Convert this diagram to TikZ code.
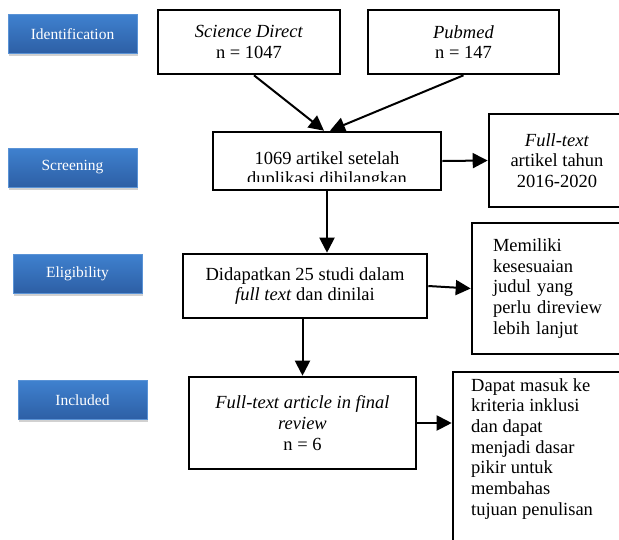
\documentclass[tikz,border=0pt]{standalone}
\usepackage{fontspec}
\setmainfont{Liberation Serif}
\usetikzlibrary{arrows.meta, shadows}

\definecolor{phasetop}{HTML}{3F81CF}
\definecolor{phasebot}{HTML}{2D5FA5}
\definecolor{phaseline}{HTML}{5A93D6}

\begin{document}
\begin{tikzpicture}[
    x=1pt, y=-1pt,
    phase/.style = {
        rectangle,
        draw=phaseline,
        line width=0.6pt,
        top color=phasetop,
        bottom color=phasebot,
        text=white,
        minimum width=129pt,
        minimum height=39pt,
        font=\fontsize{15.5}{18}\selectfont,
        drop shadow={shadow xshift=0.5pt, shadow yshift=-2.5pt, opacity=0.18, fill=black}
    },
    box/.style = {
        draw,
        rectangle,
        line width=2.6pt,
        align=center,
        font=\fontsize{18.5}{20.7}\selectfont
    },
    txt/.style = {
        align=left,
        inner sep=0pt,
        font=\fontsize{18.5}{20.7}\selectfont
    },
    myarrow/.style={
        line width=2pt,
        -{Triangle[length=15pt, width=15pt]}
    }
]
  \useasboundingbox (0,0) rectangle (619,539);
  \clip (0,0) rectangle (619,539);

  % phases on the left
  \node[phase] (ident) at (72.5,34) {Identification};
  \node[phase] (screen) at (72.5,167.5) {Screening};
  \node[phase] (elig) at (77.5,273.5) {Eligibility};
  \node[phase] (incl) at (82.5,400) {Included};

  % flow boxes
  \node[box, minimum width=182pt, minimum height=64pt] (sd) at (249,42) {\textit{Science Direct}\\n = 1047};
  \node[box, minimum width=191pt, minimum height=64pt] (pub) at (463.5,42) {\textit{Pubmed}\\n = 147};
  \node[box, minimum width=228pt, minimum height=58pt] (dup) at (327,161) {};
  \begin{scope}
    \clip (213,133) rectangle (441,181);
    \node[txt, align=center] (dupText) at (327,170) {1069 artikel setelah\\duplikasi dihilangkan};
  \end{scope}
  \node[box, minimum width=136pt, minimum height=93pt] (full) at (557,160.5) {\textit{Full-text}\\artikel tahun\\2016-2020};
  \node[box, minimum width=244pt, minimum height=64pt] (didapat) at (305,286) {Didapatkan 25 studi dalam\\\textit{full text} dan dinilai};
  \node[box, minimum height=131pt, text width=146pt, inner xsep=21pt, align=left] (memiliki) at (566,288.5) {Memiliki\\kesesuaian\\judul yang\\perlu direview\\lebih lanjut};
  \node[box, minimum width=227pt, minimum height=92pt] (final) at (302.5,423) {\textit{Full-text article in final}\\\textit{review}\\n = 6};
  \node[box, minimum width=200pt, minimum height=200pt] (dapat) at (553,472) {};
  \node[txt, anchor=north west] (dapatText) at (471,378) {Dapat masuk ke\\kriteria inklusi\\dan dapat\\menjadi dasar\\pikir untuk\\membahas\\tujuan penulisan};

  \draw[myarrow] ([xshift=5pt]sd.south) -- ([xshift=-3pt]dup.north);
  \draw[myarrow] (pub.south) -- ([xshift=3pt]dup.north);
  \draw[myarrow] (dup.east) -- (full.west);
  \draw[myarrow] (dup.south) -- (dup.south |- didapat.north);
  \draw[myarrow] (didapat.east) -- (memiliki.west);
  \draw[myarrow] (didapat.south -| final.north) -- (final.north);
  \draw[myarrow] (final.east) -- (final.east -| dapat.west);
\end{tikzpicture}
\end{document}
